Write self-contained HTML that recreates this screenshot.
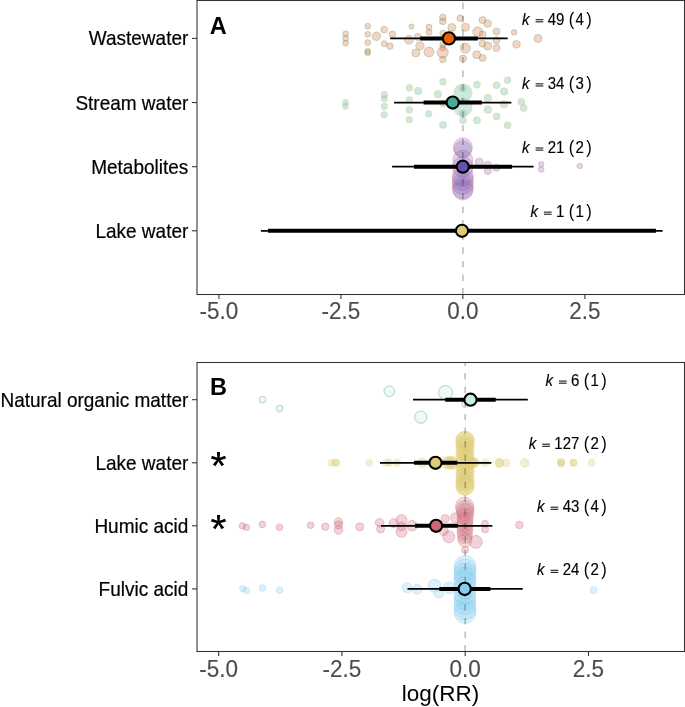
<!DOCTYPE html><html><head><meta charset="utf-8"><style>html,body{margin:0;padding:0;background:#fff;width:685px;height:707px;overflow:hidden}</style></head><body><svg width="685" height="707" viewBox="0 0 685 707" style="display:block;will-change:transform">
<g font-family='"Liberation Sans", sans-serif'>
<circle cx="345.7" cy="33.8" r="2.9" fill="#E0703A" fill-opacity="0.3" stroke="#6E9E78" stroke-opacity="0.55" stroke-width="0.7"/>
<circle cx="345.7" cy="38.5" r="2.9" fill="#E0703A" fill-opacity="0.3" stroke="#6E9E78" stroke-opacity="0.55" stroke-width="0.7"/>
<circle cx="345.7" cy="43.1" r="2.9" fill="#E0703A" fill-opacity="0.3" stroke="#6E9E78" stroke-opacity="0.55" stroke-width="0.7"/>
<circle cx="367.7" cy="26.2" r="2.9" fill="#E0703A" fill-opacity="0.3" stroke="#6E9E78" stroke-opacity="0.55" stroke-width="0.7"/>
<circle cx="367.7" cy="34.3" r="2.9" fill="#E0703A" fill-opacity="0.3" stroke="#6E9E78" stroke-opacity="0.55" stroke-width="0.7"/>
<circle cx="367.7" cy="42.6" r="2.9" fill="#E0703A" fill-opacity="0.3" stroke="#6E9E78" stroke-opacity="0.55" stroke-width="0.7"/>
<circle cx="367.7" cy="51.2" r="2.9" fill="#E0703A" fill-opacity="0.3" stroke="#6E9E78" stroke-opacity="0.55" stroke-width="0.7"/>
<circle cx="367.7" cy="52.9" r="2.9" fill="#E0703A" fill-opacity="0.3" stroke="#6E9E78" stroke-opacity="0.55" stroke-width="0.7"/>
<circle cx="376.4" cy="36.3" r="4.2" fill="#E0703A" fill-opacity="0.3" stroke="#6E9E78" stroke-opacity="0.55" stroke-width="0.7"/>
<circle cx="384.2" cy="29.7" r="3.3" fill="#E0703A" fill-opacity="0.3" stroke="#6E9E78" stroke-opacity="0.55" stroke-width="0.7"/>
<circle cx="384.2" cy="43.7" r="3.0" fill="#E0703A" fill-opacity="0.3" stroke="#6E9E78" stroke-opacity="0.55" stroke-width="0.7"/>
<circle cx="389.9" cy="46.1" r="3.3" fill="#E0703A" fill-opacity="0.3" stroke="#6E9E78" stroke-opacity="0.55" stroke-width="0.7"/>
<circle cx="392.4" cy="34.3" r="3.3" fill="#E0703A" fill-opacity="0.3" stroke="#6E9E78" stroke-opacity="0.55" stroke-width="0.7"/>
<circle cx="411.5" cy="26.6" r="2.6" fill="#E0703A" fill-opacity="0.3" stroke="#6E9E78" stroke-opacity="0.55" stroke-width="0.7"/>
<circle cx="408.8" cy="39.8" r="4.4" fill="#E0703A" fill-opacity="0.3" stroke="#6E9E78" stroke-opacity="0.55" stroke-width="0.7"/>
<circle cx="417.8" cy="37.1" r="3.5" fill="#E0703A" fill-opacity="0.3" stroke="#6E9E78" stroke-opacity="0.55" stroke-width="0.7"/>
<circle cx="420.0" cy="45.9" r="4.2" fill="#E0703A" fill-opacity="0.3" stroke="#6E9E78" stroke-opacity="0.55" stroke-width="0.7"/>
<circle cx="415.8" cy="52.9" r="4.0" fill="#E0703A" fill-opacity="0.3" stroke="#6E9E78" stroke-opacity="0.55" stroke-width="0.7"/>
<circle cx="429.0" cy="27.1" r="3.0" fill="#E0703A" fill-opacity="0.3" stroke="#6E9E78" stroke-opacity="0.55" stroke-width="0.7"/>
<circle cx="429.0" cy="32.3" r="3.0" fill="#E0703A" fill-opacity="0.3" stroke="#6E9E78" stroke-opacity="0.55" stroke-width="0.7"/>
<circle cx="429.0" cy="51.9" r="5.0" fill="#E0703A" fill-opacity="0.3" stroke="#6E9E78" stroke-opacity="0.55" stroke-width="0.7"/>
<circle cx="442.8" cy="17.4" r="3.3" fill="#E0703A" fill-opacity="0.3" stroke="#6E9E78" stroke-opacity="0.55" stroke-width="0.7"/>
<circle cx="442.8" cy="21.4" r="3.3" fill="#E0703A" fill-opacity="0.3" stroke="#6E9E78" stroke-opacity="0.55" stroke-width="0.7"/>
<circle cx="442.8" cy="33.2" r="3.0" fill="#E0703A" fill-opacity="0.3" stroke="#6E9E78" stroke-opacity="0.55" stroke-width="0.7"/>
<circle cx="442.8" cy="44.6" r="3.0" fill="#E0703A" fill-opacity="0.3" stroke="#6E9E78" stroke-opacity="0.55" stroke-width="0.7"/>
<circle cx="442.8" cy="47.7" r="3.0" fill="#E0703A" fill-opacity="0.3" stroke="#6E9E78" stroke-opacity="0.55" stroke-width="0.7"/>
<circle cx="442.8" cy="52.5" r="5.5" fill="#E0703A" fill-opacity="0.3" stroke="#6E9E78" stroke-opacity="0.55" stroke-width="0.7"/>
<circle cx="442.8" cy="59.5" r="3.3" fill="#E0703A" fill-opacity="0.3" stroke="#6E9E78" stroke-opacity="0.55" stroke-width="0.7"/>
<circle cx="451.8" cy="27.5" r="4.0" fill="#E0703A" fill-opacity="0.3" stroke="#6E9E78" stroke-opacity="0.55" stroke-width="0.7"/>
<circle cx="460.3" cy="18.3" r="3.3" fill="#E0703A" fill-opacity="0.3" stroke="#6E9E78" stroke-opacity="0.55" stroke-width="0.7"/>
<circle cx="465.4" cy="27.3" r="4.0" fill="#E0703A" fill-opacity="0.3" stroke="#6E9E78" stroke-opacity="0.55" stroke-width="0.7"/>
<circle cx="465.4" cy="48.1" r="5.0" fill="#E0703A" fill-opacity="0.3" stroke="#6E9E78" stroke-opacity="0.55" stroke-width="0.7"/>
<circle cx="463.0" cy="58.6" r="3.5" fill="#E0703A" fill-opacity="0.3" stroke="#6E9E78" stroke-opacity="0.55" stroke-width="0.7"/>
<circle cx="477.7" cy="31.9" r="5.0" fill="#E0703A" fill-opacity="0.3" stroke="#6E9E78" stroke-opacity="0.55" stroke-width="0.7"/>
<circle cx="482.5" cy="20.1" r="3.5" fill="#E0703A" fill-opacity="0.3" stroke="#6E9E78" stroke-opacity="0.55" stroke-width="0.7"/>
<circle cx="487.7" cy="23.6" r="3.8" fill="#E0703A" fill-opacity="0.3" stroke="#6E9E78" stroke-opacity="0.55" stroke-width="0.7"/>
<circle cx="482.5" cy="34.5" r="3.5" fill="#E0703A" fill-opacity="0.3" stroke="#6E9E78" stroke-opacity="0.55" stroke-width="0.7"/>
<circle cx="482.5" cy="43.7" r="3.5" fill="#E0703A" fill-opacity="0.3" stroke="#6E9E78" stroke-opacity="0.55" stroke-width="0.7"/>
<circle cx="487.7" cy="45.9" r="4.0" fill="#E0703A" fill-opacity="0.3" stroke="#6E9E78" stroke-opacity="0.55" stroke-width="0.7"/>
<circle cx="476.8" cy="54.7" r="4.0" fill="#E0703A" fill-opacity="0.3" stroke="#6E9E78" stroke-opacity="0.55" stroke-width="0.7"/>
<circle cx="482.6" cy="58.0" r="3.5" fill="#E0703A" fill-opacity="0.3" stroke="#6E9E78" stroke-opacity="0.55" stroke-width="0.7"/>
<circle cx="496.5" cy="31.5" r="3.5" fill="#E0703A" fill-opacity="0.3" stroke="#6E9E78" stroke-opacity="0.55" stroke-width="0.7"/>
<circle cx="496.5" cy="40.2" r="3.5" fill="#E0703A" fill-opacity="0.3" stroke="#6E9E78" stroke-opacity="0.55" stroke-width="0.7"/>
<circle cx="496.5" cy="48.1" r="3.5" fill="#E0703A" fill-opacity="0.3" stroke="#6E9E78" stroke-opacity="0.55" stroke-width="0.7"/>
<circle cx="514.1" cy="32.3" r="2.8" fill="#E0703A" fill-opacity="0.3" stroke="#6E9E78" stroke-opacity="0.55" stroke-width="0.7"/>
<circle cx="516.5" cy="44.3" r="3.8" fill="#E0703A" fill-opacity="0.3" stroke="#6E9E78" stroke-opacity="0.55" stroke-width="0.7"/>
<circle cx="537.9" cy="38.4" r="4.0" fill="#E0703A" fill-opacity="0.3" stroke="#6E9E78" stroke-opacity="0.55" stroke-width="0.7"/>
<circle cx="345.5" cy="102.5" r="3.1" fill="#44AA99" fill-opacity="0.27" stroke="#DDCC77" stroke-opacity="0.6" stroke-width="0.7"/>
<circle cx="345.5" cy="106.3" r="3.1" fill="#44AA99" fill-opacity="0.27" stroke="#DDCC77" stroke-opacity="0.6" stroke-width="0.7"/>
<circle cx="384.3" cy="94.5" r="3.3" fill="#44AA99" fill-opacity="0.27" stroke="#DDCC77" stroke-opacity="0.6" stroke-width="0.7"/>
<circle cx="384.3" cy="98.8" r="3.3" fill="#44AA99" fill-opacity="0.27" stroke="#DDCC77" stroke-opacity="0.6" stroke-width="0.7"/>
<circle cx="384.3" cy="106.5" r="3.3" fill="#44AA99" fill-opacity="0.27" stroke="#DDCC77" stroke-opacity="0.6" stroke-width="0.7"/>
<circle cx="384.3" cy="114.7" r="3.3" fill="#44AA99" fill-opacity="0.27" stroke="#DDCC77" stroke-opacity="0.6" stroke-width="0.7"/>
<circle cx="409.3" cy="87.9" r="3.3" fill="#44AA99" fill-opacity="0.27" stroke="#DDCC77" stroke-opacity="0.6" stroke-width="0.7"/>
<circle cx="409.3" cy="99.8" r="3.3" fill="#44AA99" fill-opacity="0.27" stroke="#DDCC77" stroke-opacity="0.6" stroke-width="0.7"/>
<circle cx="409.3" cy="109.9" r="3.3" fill="#44AA99" fill-opacity="0.27" stroke="#DDCC77" stroke-opacity="0.6" stroke-width="0.7"/>
<circle cx="409.3" cy="119.8" r="3.3" fill="#44AA99" fill-opacity="0.27" stroke="#DDCC77" stroke-opacity="0.6" stroke-width="0.7"/>
<circle cx="418.0" cy="91.0" r="3.8" fill="#44AA99" fill-opacity="0.27" stroke="#DDCC77" stroke-opacity="0.6" stroke-width="0.7"/>
<circle cx="428.7" cy="113.9" r="3.3" fill="#44AA99" fill-opacity="0.27" stroke="#DDCC77" stroke-opacity="0.6" stroke-width="0.7"/>
<circle cx="437.9" cy="94.2" r="3.8" fill="#44AA99" fill-opacity="0.27" stroke="#DDCC77" stroke-opacity="0.6" stroke-width="0.7"/>
<circle cx="443.0" cy="81.8" r="3.5" fill="#44AA99" fill-opacity="0.27" stroke="#DDCC77" stroke-opacity="0.6" stroke-width="0.7"/>
<circle cx="443.0" cy="103.7" r="3.5" fill="#44AA99" fill-opacity="0.27" stroke="#DDCC77" stroke-opacity="0.6" stroke-width="0.7"/>
<circle cx="443.0" cy="125.0" r="3.5" fill="#44AA99" fill-opacity="0.27" stroke="#DDCC77" stroke-opacity="0.6" stroke-width="0.7"/>
<circle cx="462.9" cy="93.0" r="9.2" fill="#44AA99" fill-opacity="0.27" stroke="#DDCC77" stroke-opacity="0.6" stroke-width="0.7"/>
<circle cx="462.9" cy="107.3" r="9.2" fill="#44AA99" fill-opacity="0.27" stroke="#DDCC77" stroke-opacity="0.6" stroke-width="0.7"/>
<circle cx="462.9" cy="88.4" r="3.5" fill="#44AA99" fill-opacity="0.27" stroke="#DDCC77" stroke-opacity="0.6" stroke-width="0.7"/>
<circle cx="462.9" cy="113.4" r="3.5" fill="#44AA99" fill-opacity="0.27" stroke="#DDCC77" stroke-opacity="0.6" stroke-width="0.7"/>
<circle cx="462.9" cy="120.3" r="3.5" fill="#44AA99" fill-opacity="0.27" stroke="#DDCC77" stroke-opacity="0.6" stroke-width="0.7"/>
<circle cx="476.9" cy="84.6" r="3.6" fill="#44AA99" fill-opacity="0.27" stroke="#DDCC77" stroke-opacity="0.6" stroke-width="0.7"/>
<circle cx="476.9" cy="120.3" r="3.6" fill="#44AA99" fill-opacity="0.27" stroke="#DDCC77" stroke-opacity="0.6" stroke-width="0.7"/>
<circle cx="487.9" cy="98.1" r="3.8" fill="#44AA99" fill-opacity="0.27" stroke="#DDCC77" stroke-opacity="0.6" stroke-width="0.7"/>
<circle cx="487.9" cy="109.6" r="3.8" fill="#44AA99" fill-opacity="0.27" stroke="#DDCC77" stroke-opacity="0.6" stroke-width="0.7"/>
<circle cx="496.6" cy="85.3" r="3.5" fill="#44AA99" fill-opacity="0.27" stroke="#DDCC77" stroke-opacity="0.6" stroke-width="0.7"/>
<circle cx="496.6" cy="116.5" r="3.5" fill="#44AA99" fill-opacity="0.27" stroke="#DDCC77" stroke-opacity="0.6" stroke-width="0.7"/>
<circle cx="504.1" cy="91.5" r="3.8" fill="#44AA99" fill-opacity="0.27" stroke="#DDCC77" stroke-opacity="0.6" stroke-width="0.7"/>
<circle cx="504.1" cy="104.2" r="3.8" fill="#44AA99" fill-opacity="0.27" stroke="#DDCC77" stroke-opacity="0.6" stroke-width="0.7"/>
<circle cx="507.5" cy="80.2" r="3.5" fill="#44AA99" fill-opacity="0.27" stroke="#DDCC77" stroke-opacity="0.6" stroke-width="0.7"/>
<circle cx="507.5" cy="125.2" r="3.5" fill="#44AA99" fill-opacity="0.27" stroke="#DDCC77" stroke-opacity="0.6" stroke-width="0.7"/>
<circle cx="521.4" cy="101.8" r="3.5" fill="#44AA99" fill-opacity="0.27" stroke="#DDCC77" stroke-opacity="0.6" stroke-width="0.7"/>
<circle cx="523.7" cy="108.0" r="3.5" fill="#44AA99" fill-opacity="0.27" stroke="#DDCC77" stroke-opacity="0.6" stroke-width="0.7"/>
<circle cx="462.8" cy="147.5" r="9.6" fill="#7A5CB8" fill-opacity="0.25" stroke="#CC6677" stroke-opacity="0.5" stroke-width="0.7"/>
<circle cx="462.8" cy="149.5" r="8.6" fill="#7A5CB8" fill-opacity="0.25" stroke="#CC6677" stroke-opacity="0.5" stroke-width="0.7"/>
<circle cx="462.8" cy="160.0" r="10.0" fill="#7A5CB8" fill-opacity="0.25" stroke="#CC6677" stroke-opacity="0.5" stroke-width="0.7"/>
<circle cx="462.8" cy="167.0" r="10.3" fill="#7A5CB8" fill-opacity="0.25" stroke="#CC6677" stroke-opacity="0.5" stroke-width="0.7"/>
<circle cx="462.8" cy="176.0" r="10.5" fill="#7A5CB8" fill-opacity="0.25" stroke="#CC6677" stroke-opacity="0.5" stroke-width="0.7"/>
<circle cx="462.8" cy="180.0" r="10.5" fill="#7A5CB8" fill-opacity="0.25" stroke="#CC6677" stroke-opacity="0.5" stroke-width="0.7"/>
<circle cx="462.8" cy="184.0" r="10.5" fill="#7A5CB8" fill-opacity="0.25" stroke="#CC6677" stroke-opacity="0.5" stroke-width="0.7"/>
<circle cx="462.8" cy="188.0" r="10.5" fill="#7A5CB8" fill-opacity="0.25" stroke="#CC6677" stroke-opacity="0.5" stroke-width="0.7"/>
<circle cx="462.8" cy="190.0" r="10.0" fill="#7A5CB8" fill-opacity="0.25" stroke="#CC6677" stroke-opacity="0.5" stroke-width="0.7"/>
<circle cx="479.3" cy="162.2" r="4.0" fill="#7A5CB8" fill-opacity="0.25" stroke="#CC6677" stroke-opacity="0.5" stroke-width="0.7"/>
<circle cx="487.8" cy="164.7" r="3.5" fill="#7A5CB8" fill-opacity="0.25" stroke="#CC6677" stroke-opacity="0.5" stroke-width="0.7"/>
<circle cx="487.8" cy="170.9" r="3.5" fill="#7A5CB8" fill-opacity="0.25" stroke="#CC6677" stroke-opacity="0.5" stroke-width="0.7"/>
<circle cx="496.4" cy="167.8" r="3.5" fill="#7A5CB8" fill-opacity="0.25" stroke="#CC6677" stroke-opacity="0.5" stroke-width="0.7"/>
<circle cx="541.2" cy="164.2" r="2.8" fill="#7A5CB8" fill-opacity="0.25" stroke="#CC6677" stroke-opacity="0.5" stroke-width="0.7"/>
<circle cx="541.2" cy="169.5" r="2.8" fill="#7A5CB8" fill-opacity="0.25" stroke="#CC6677" stroke-opacity="0.5" stroke-width="0.7"/>
<circle cx="579.7" cy="166.0" r="2.8" fill="#7A5CB8" fill-opacity="0.25" stroke="#CC6677" stroke-opacity="0.5" stroke-width="0.7"/>
<line x1="462.9" y1="294.5" x2="462.9" y2="0.5" stroke="#000" stroke-opacity="0.27" stroke-width="1.5" stroke-dasharray="6.4 7.2"/>
<line x1="390.2" y1="38.4" x2="507.7" y2="38.4" stroke="#000" stroke-width="1.8"/>
<line x1="420.2" y1="38.4" x2="477.8" y2="38.4" stroke="#000" stroke-width="4"/>
<circle cx="448.9" cy="38.4" r="6.1" fill="#E66100" stroke="#000" stroke-width="2.1"/>
<line x1="394.1" y1="102.55" x2="511.4" y2="102.55" stroke="#000" stroke-width="1.8"/>
<line x1="423.6" y1="102.55" x2="481.8" y2="102.55" stroke="#000" stroke-width="4"/>
<circle cx="452.7" cy="102.55" r="6.1" fill="#44AA99" stroke="#000" stroke-width="2.1"/>
<line x1="392.1" y1="166.7" x2="533.6" y2="166.7" stroke="#000" stroke-width="1.8"/>
<line x1="414.0" y1="166.7" x2="512.1" y2="166.7" stroke="#000" stroke-width="4"/>
<circle cx="462.8" cy="166.7" r="6.1" fill="#6950AA" stroke="#000" stroke-width="2.1"/>
<line x1="260.9" y1="230.8" x2="662.6" y2="230.8" stroke="#000" stroke-width="1.8"/>
<line x1="268.0" y1="230.8" x2="655.9" y2="230.8" stroke="#000" stroke-width="4"/>
<circle cx="462.0" cy="230.8" r="6.1" fill="#DDCC77" stroke="#000" stroke-width="2.1"/>
<circle cx="262.6" cy="399.7" r="3.3" fill="#D0ECE2" fill-opacity="0.3" stroke="#7DBF9A" stroke-opacity="0.7" stroke-width="0.9"/>
<circle cx="279.7" cy="408.5" r="3.3" fill="#D0ECE2" fill-opacity="0.3" stroke="#7DBF9A" stroke-opacity="0.7" stroke-width="0.9"/>
<circle cx="389.3" cy="391.3" r="5.3" fill="#D0ECE2" fill-opacity="0.3" stroke="#7DBF9A" stroke-opacity="0.7" stroke-width="0.9"/>
<circle cx="420.8" cy="417.2" r="6.1" fill="#D0ECE2" fill-opacity="0.3" stroke="#7DBF9A" stroke-opacity="0.7" stroke-width="0.9"/>
<circle cx="445.5" cy="392.6" r="7.0" fill="#D0ECE2" fill-opacity="0.3" stroke="#7DBF9A" stroke-opacity="0.7" stroke-width="0.9"/>
<circle cx="465.0" cy="404.4" r="3.0" fill="#D0ECE2" fill-opacity="0.3" stroke="#7DBF9A" stroke-opacity="0.7" stroke-width="0.9"/>
<circle cx="331.4" cy="462.8" r="3.4" fill="#DDCC77" fill-opacity="0.34" stroke="#DDCC77" stroke-opacity="0.35" stroke-width="0.7"/>
<circle cx="336.0" cy="462.8" r="3.9" fill="#DDCC77" fill-opacity="0.34" stroke="#DDCC77" stroke-opacity="0.35" stroke-width="0.7"/>
<circle cx="335.5" cy="462.5" r="3.6" fill="#DDCC77" fill-opacity="0.34" stroke="#DDCC77" stroke-opacity="0.35" stroke-width="0.7"/>
<circle cx="369.2" cy="462.8" r="3.4" fill="#DDCC77" fill-opacity="0.34" stroke="#DDCC77" stroke-opacity="0.35" stroke-width="0.7"/>
<circle cx="386.4" cy="462.8" r="3.6" fill="#DDCC77" fill-opacity="0.34" stroke="#DDCC77" stroke-opacity="0.35" stroke-width="0.7"/>
<circle cx="389.3" cy="462.6" r="3.6" fill="#DDCC77" fill-opacity="0.34" stroke="#DDCC77" stroke-opacity="0.35" stroke-width="0.7"/>
<circle cx="397.1" cy="462.8" r="3.8" fill="#DDCC77" fill-opacity="0.34" stroke="#DDCC77" stroke-opacity="0.35" stroke-width="0.7"/>
<circle cx="421.7" cy="462.8" r="5.0" fill="#DDCC77" fill-opacity="0.34" stroke="#DDCC77" stroke-opacity="0.35" stroke-width="0.7"/>
<circle cx="446.5" cy="462.8" r="6.0" fill="#DDCC77" fill-opacity="0.34" stroke="#DDCC77" stroke-opacity="0.35" stroke-width="0.7"/>
<circle cx="452.0" cy="462.8" r="6.0" fill="#DDCC77" fill-opacity="0.34" stroke="#DDCC77" stroke-opacity="0.35" stroke-width="0.7"/>
<circle cx="475.7" cy="462.8" r="4.0" fill="#DDCC77" fill-opacity="0.34" stroke="#DDCC77" stroke-opacity="0.35" stroke-width="0.7"/>
<circle cx="485.2" cy="462.8" r="3.8" fill="#DDCC77" fill-opacity="0.34" stroke="#DDCC77" stroke-opacity="0.35" stroke-width="0.7"/>
<circle cx="499.4" cy="462.2" r="4.3" fill="#DDCC77" fill-opacity="0.34" stroke="#DDCC77" stroke-opacity="0.35" stroke-width="0.7"/>
<circle cx="499.4" cy="463.4" r="4.3" fill="#DDCC77" fill-opacity="0.34" stroke="#DDCC77" stroke-opacity="0.35" stroke-width="0.7"/>
<circle cx="506.0" cy="462.8" r="4.0" fill="#DDCC77" fill-opacity="0.34" stroke="#DDCC77" stroke-opacity="0.35" stroke-width="0.7"/>
<circle cx="524.7" cy="462.8" r="4.5" fill="#DDCC77" fill-opacity="0.34" stroke="#DDCC77" stroke-opacity="0.35" stroke-width="0.7"/>
<circle cx="561.1" cy="461.9" r="3.6" fill="#DDCC77" fill-opacity="0.34" stroke="#DDCC77" stroke-opacity="0.35" stroke-width="0.7"/>
<circle cx="561.1" cy="463.6" r="3.6" fill="#DDCC77" fill-opacity="0.34" stroke="#DDCC77" stroke-opacity="0.35" stroke-width="0.7"/>
<circle cx="561.1" cy="462.8" r="3.6" fill="#DDCC77" fill-opacity="0.34" stroke="#DDCC77" stroke-opacity="0.35" stroke-width="0.7"/>
<circle cx="573.4" cy="462.4" r="3.6" fill="#DDCC77" fill-opacity="0.34" stroke="#DDCC77" stroke-opacity="0.35" stroke-width="0.7"/>
<circle cx="573.4" cy="463.0" r="3.6" fill="#DDCC77" fill-opacity="0.34" stroke="#DDCC77" stroke-opacity="0.35" stroke-width="0.7"/>
<circle cx="591.5" cy="462.8" r="3.5" fill="#DDCC77" fill-opacity="0.34" stroke="#DDCC77" stroke-opacity="0.35" stroke-width="0.7"/>
<circle cx="465.0" cy="440.5" r="9.2" fill="#DDCC77" fill-opacity="0.42" stroke="#DDCC77" stroke-opacity="0.3" stroke-width="0.7"/>
<circle cx="465.0" cy="444" r="9.2" fill="#DDCC77" fill-opacity="0.42" stroke="#DDCC77" stroke-opacity="0.3" stroke-width="0.7"/>
<circle cx="465.0" cy="447.5" r="9.2" fill="#DDCC77" fill-opacity="0.42" stroke="#DDCC77" stroke-opacity="0.3" stroke-width="0.7"/>
<circle cx="465.0" cy="451" r="9.2" fill="#DDCC77" fill-opacity="0.42" stroke="#DDCC77" stroke-opacity="0.3" stroke-width="0.7"/>
<circle cx="465.0" cy="455" r="9.2" fill="#DDCC77" fill-opacity="0.42" stroke="#DDCC77" stroke-opacity="0.3" stroke-width="0.7"/>
<circle cx="465.0" cy="459" r="9.2" fill="#DDCC77" fill-opacity="0.42" stroke="#DDCC77" stroke-opacity="0.3" stroke-width="0.7"/>
<circle cx="465.0" cy="463" r="9.2" fill="#DDCC77" fill-opacity="0.42" stroke="#DDCC77" stroke-opacity="0.3" stroke-width="0.7"/>
<circle cx="465.0" cy="467" r="9.2" fill="#DDCC77" fill-opacity="0.42" stroke="#DDCC77" stroke-opacity="0.3" stroke-width="0.7"/>
<circle cx="465.0" cy="471" r="9.2" fill="#DDCC77" fill-opacity="0.42" stroke="#DDCC77" stroke-opacity="0.3" stroke-width="0.7"/>
<circle cx="465.0" cy="475" r="9.2" fill="#DDCC77" fill-opacity="0.42" stroke="#DDCC77" stroke-opacity="0.3" stroke-width="0.7"/>
<circle cx="465.0" cy="479" r="9.2" fill="#DDCC77" fill-opacity="0.42" stroke="#DDCC77" stroke-opacity="0.3" stroke-width="0.7"/>
<circle cx="465.0" cy="482.5" r="9.2" fill="#DDCC77" fill-opacity="0.42" stroke="#DDCC77" stroke-opacity="0.3" stroke-width="0.7"/>
<circle cx="465.0" cy="486" r="9.2" fill="#DDCC77" fill-opacity="0.42" stroke="#DDCC77" stroke-opacity="0.3" stroke-width="0.7"/>
<circle cx="465.0" cy="440.5" r="9.4" fill="#DDCC77" fill-opacity="0.42" stroke="#DDCC77" stroke-opacity="0.3" stroke-width="0.7"/>
<circle cx="465.0" cy="486.0" r="9.4" fill="#DDCC77" fill-opacity="0.42" stroke="#DDCC77" stroke-opacity="0.3" stroke-width="0.7"/>
<circle cx="449.0" cy="462.8" r="6.5" fill="#DDCC77" fill-opacity="0.42" stroke="#DDCC77" stroke-opacity="0.3" stroke-width="0.7"/>
<circle cx="452.0" cy="462.8" r="6.5" fill="#DDCC77" fill-opacity="0.42" stroke="#DDCC77" stroke-opacity="0.3" stroke-width="0.7"/>
<circle cx="471.0" cy="462.8" r="6.0" fill="#DDCC77" fill-opacity="0.42" stroke="#DDCC77" stroke-opacity="0.3" stroke-width="0.7"/>
<circle cx="474.0" cy="462.8" r="5.0" fill="#DDCC77" fill-opacity="0.42" stroke="#DDCC77" stroke-opacity="0.3" stroke-width="0.7"/>
<circle cx="242.4" cy="525.8" r="3.2" fill="#CC6677" fill-opacity="0.28" stroke="#CC6677" stroke-opacity="0.5" stroke-width="0.7"/>
<circle cx="246.4" cy="527.4" r="3.2" fill="#CC6677" fill-opacity="0.28" stroke="#CC6677" stroke-opacity="0.5" stroke-width="0.7"/>
<circle cx="262.4" cy="524.4" r="3.3" fill="#CC6677" fill-opacity="0.28" stroke="#CC6677" stroke-opacity="0.5" stroke-width="0.7"/>
<circle cx="279.6" cy="527.3" r="3.3" fill="#CC6677" fill-opacity="0.28" stroke="#CC6677" stroke-opacity="0.5" stroke-width="0.7"/>
<circle cx="310.6" cy="525.3" r="3.3" fill="#CC6677" fill-opacity="0.28" stroke="#CC6677" stroke-opacity="0.5" stroke-width="0.7"/>
<circle cx="325.3" cy="526.7" r="3.7" fill="#CC6677" fill-opacity="0.28" stroke="#CC6677" stroke-opacity="0.5" stroke-width="0.7"/>
<circle cx="338.5" cy="522.0" r="4.3" fill="#CC6677" fill-opacity="0.28" stroke="#CC6677" stroke-opacity="0.5" stroke-width="0.7"/>
<circle cx="338.5" cy="524.9" r="4.0" fill="#CC6677" fill-opacity="0.28" stroke="#CC6677" stroke-opacity="0.5" stroke-width="0.7"/>
<circle cx="338.5" cy="530.0" r="4.3" fill="#CC6677" fill-opacity="0.28" stroke="#CC6677" stroke-opacity="0.5" stroke-width="0.7"/>
<circle cx="359.7" cy="526.8" r="4.0" fill="#CC6677" fill-opacity="0.28" stroke="#CC6677" stroke-opacity="0.5" stroke-width="0.7"/>
<circle cx="379.6" cy="522.7" r="4.3" fill="#CC6677" fill-opacity="0.28" stroke="#CC6677" stroke-opacity="0.5" stroke-width="0.7"/>
<circle cx="380.6" cy="528.9" r="4.0" fill="#CC6677" fill-opacity="0.28" stroke="#CC6677" stroke-opacity="0.5" stroke-width="0.7"/>
<circle cx="393.7" cy="523.2" r="4.5" fill="#CC6677" fill-opacity="0.28" stroke="#CC6677" stroke-opacity="0.5" stroke-width="0.7"/>
<circle cx="401.5" cy="520.1" r="5.5" fill="#CC6677" fill-opacity="0.28" stroke="#CC6677" stroke-opacity="0.5" stroke-width="0.7"/>
<circle cx="401.5" cy="526.4" r="4.5" fill="#CC6677" fill-opacity="0.28" stroke="#CC6677" stroke-opacity="0.5" stroke-width="0.7"/>
<circle cx="401.5" cy="531.8" r="5.5" fill="#CC6677" fill-opacity="0.28" stroke="#CC6677" stroke-opacity="0.5" stroke-width="0.7"/>
<circle cx="412.0" cy="525.7" r="5.3" fill="#CC6677" fill-opacity="0.28" stroke="#CC6677" stroke-opacity="0.5" stroke-width="0.7"/>
<circle cx="445.1" cy="518.6" r="4.0" fill="#CC6677" fill-opacity="0.28" stroke="#CC6677" stroke-opacity="0.5" stroke-width="0.7"/>
<circle cx="455.4" cy="517.8" r="5.0" fill="#CC6677" fill-opacity="0.28" stroke="#CC6677" stroke-opacity="0.5" stroke-width="0.7"/>
<circle cx="448.8" cy="536.8" r="6.0" fill="#CC6677" fill-opacity="0.28" stroke="#CC6677" stroke-opacity="0.5" stroke-width="0.7"/>
<circle cx="443.7" cy="531.0" r="4.5" fill="#CC6677" fill-opacity="0.28" stroke="#CC6677" stroke-opacity="0.5" stroke-width="0.7"/>
<circle cx="475.8" cy="541.9" r="6.5" fill="#CC6677" fill-opacity="0.28" stroke="#CC6677" stroke-opacity="0.5" stroke-width="0.7"/>
<circle cx="485.0" cy="523.7" r="3.5" fill="#CC6677" fill-opacity="0.28" stroke="#CC6677" stroke-opacity="0.5" stroke-width="0.7"/>
<circle cx="485.0" cy="529.5" r="3.5" fill="#CC6677" fill-opacity="0.28" stroke="#CC6677" stroke-opacity="0.5" stroke-width="0.7"/>
<circle cx="519.4" cy="525.0" r="3.7" fill="#CC6677" fill-opacity="0.28" stroke="#CC6677" stroke-opacity="0.5" stroke-width="0.7"/>
<circle cx="465.1" cy="550.0" r="3.5" fill="#CC6677" fill-opacity="0.28" stroke="#CC6677" stroke-opacity="0.5" stroke-width="0.7"/>
<circle cx="464.6" cy="506.5" r="9.2" fill="#CC6677" fill-opacity="0.25" stroke="#CC6677" stroke-opacity="0.45" stroke-width="0.7"/>
<circle cx="465.0" cy="509.5" r="9.0" fill="#CC6677" fill-opacity="0.25" stroke="#CC6677" stroke-opacity="0.45" stroke-width="0.7"/>
<circle cx="465.2" cy="512.0" r="8.5" fill="#CC6677" fill-opacity="0.25" stroke="#CC6677" stroke-opacity="0.45" stroke-width="0.7"/>
<circle cx="465.3" cy="516.0" r="8.2" fill="#CC6677" fill-opacity="0.25" stroke="#CC6677" stroke-opacity="0.45" stroke-width="0.7"/>
<circle cx="465.0" cy="520.0" r="8.0" fill="#CC6677" fill-opacity="0.25" stroke="#CC6677" stroke-opacity="0.45" stroke-width="0.7"/>
<circle cx="465.0" cy="524.0" r="8.0" fill="#CC6677" fill-opacity="0.25" stroke="#CC6677" stroke-opacity="0.45" stroke-width="0.7"/>
<circle cx="465.0" cy="528.0" r="8.0" fill="#CC6677" fill-opacity="0.25" stroke="#CC6677" stroke-opacity="0.45" stroke-width="0.7"/>
<circle cx="464.8" cy="532.0" r="7.8" fill="#CC6677" fill-opacity="0.25" stroke="#CC6677" stroke-opacity="0.45" stroke-width="0.7"/>
<circle cx="464.8" cy="536.0" r="7.6" fill="#CC6677" fill-opacity="0.25" stroke="#CC6677" stroke-opacity="0.45" stroke-width="0.7"/>
<circle cx="465.0" cy="540.0" r="7.0" fill="#CC6677" fill-opacity="0.25" stroke="#CC6677" stroke-opacity="0.45" stroke-width="0.7"/>
<circle cx="242.7" cy="588.8" r="3.2" fill="#88CCEE" fill-opacity="0.28" stroke="#88CCEE" stroke-opacity="0.5" stroke-width="0.7"/>
<circle cx="246.4" cy="590.5" r="3.2" fill="#88CCEE" fill-opacity="0.28" stroke="#88CCEE" stroke-opacity="0.5" stroke-width="0.7"/>
<circle cx="262.4" cy="587.9" r="3.3" fill="#88CCEE" fill-opacity="0.28" stroke="#88CCEE" stroke-opacity="0.5" stroke-width="0.7"/>
<circle cx="279.6" cy="590.3" r="3.3" fill="#88CCEE" fill-opacity="0.28" stroke="#88CCEE" stroke-opacity="0.5" stroke-width="0.7"/>
<circle cx="407.2" cy="587.8" r="5.0" fill="#88CCEE" fill-opacity="0.28" stroke="#88CCEE" stroke-opacity="0.5" stroke-width="0.7"/>
<circle cx="417.0" cy="589.3" r="5.0" fill="#88CCEE" fill-opacity="0.28" stroke="#88CCEE" stroke-opacity="0.5" stroke-width="0.7"/>
<circle cx="434.5" cy="585.7" r="6.5" fill="#88CCEE" fill-opacity="0.28" stroke="#88CCEE" stroke-opacity="0.5" stroke-width="0.7"/>
<circle cx="438.9" cy="593.0" r="5.0" fill="#88CCEE" fill-opacity="0.28" stroke="#88CCEE" stroke-opacity="0.5" stroke-width="0.7"/>
<circle cx="449.1" cy="587.8" r="6.0" fill="#88CCEE" fill-opacity="0.28" stroke="#88CCEE" stroke-opacity="0.5" stroke-width="0.7"/>
<circle cx="593.6" cy="590.2" r="3.5" fill="#88CCEE" fill-opacity="0.28" stroke="#88CCEE" stroke-opacity="0.5" stroke-width="0.7"/>
<circle cx="465.0" cy="566.5" r="11.0" fill="#88CCEE" fill-opacity="0.3" stroke="#6FB8E0" stroke-opacity="0.3" stroke-width="0.7"/>
<circle cx="465.0" cy="570" r="11.0" fill="#88CCEE" fill-opacity="0.3" stroke="#6FB8E0" stroke-opacity="0.3" stroke-width="0.7"/>
<circle cx="465.0" cy="574" r="11.0" fill="#88CCEE" fill-opacity="0.3" stroke="#6FB8E0" stroke-opacity="0.3" stroke-width="0.7"/>
<circle cx="465.0" cy="578" r="11.0" fill="#88CCEE" fill-opacity="0.3" stroke="#6FB8E0" stroke-opacity="0.3" stroke-width="0.7"/>
<circle cx="465.0" cy="582" r="11.0" fill="#88CCEE" fill-opacity="0.3" stroke="#6FB8E0" stroke-opacity="0.3" stroke-width="0.7"/>
<circle cx="465.0" cy="588" r="11.0" fill="#88CCEE" fill-opacity="0.3" stroke="#6FB8E0" stroke-opacity="0.3" stroke-width="0.7"/>
<circle cx="465.0" cy="594" r="11.0" fill="#88CCEE" fill-opacity="0.3" stroke="#6FB8E0" stroke-opacity="0.3" stroke-width="0.7"/>
<circle cx="465.0" cy="599" r="11.0" fill="#88CCEE" fill-opacity="0.3" stroke="#6FB8E0" stroke-opacity="0.3" stroke-width="0.7"/>
<circle cx="465.0" cy="604" r="11.0" fill="#88CCEE" fill-opacity="0.3" stroke="#6FB8E0" stroke-opacity="0.3" stroke-width="0.7"/>
<circle cx="465.0" cy="609" r="11.0" fill="#88CCEE" fill-opacity="0.3" stroke="#6FB8E0" stroke-opacity="0.3" stroke-width="0.7"/>
<circle cx="465.0" cy="612.5" r="11.0" fill="#88CCEE" fill-opacity="0.3" stroke="#6FB8E0" stroke-opacity="0.3" stroke-width="0.7"/>
<line x1="465.2" y1="651.5" x2="465.2" y2="362.5" stroke="#000" stroke-opacity="0.27" stroke-width="1.5" stroke-dasharray="6.4 7.2"/>
<line x1="413.0" y1="399.7" x2="527.8" y2="399.7" stroke="#000" stroke-width="1.8"/>
<line x1="445.2" y1="399.7" x2="495.7" y2="399.7" stroke="#000" stroke-width="4"/>
<circle cx="470.5" cy="399.7" r="6.1" fill="#C8EBE4" stroke="#000" stroke-width="2.1"/>
<line x1="379.9" y1="462.8" x2="491.3" y2="462.8" stroke="#000" stroke-width="1.8"/>
<line x1="414.1" y1="462.8" x2="457.3" y2="462.8" stroke="#000" stroke-width="4"/>
<circle cx="435.5" cy="462.8" r="6.1" fill="#DDCC77" stroke="#000" stroke-width="2.1"/>
<line x1="381.0" y1="525.8" x2="492.3" y2="525.8" stroke="#000" stroke-width="1.8"/>
<line x1="414.9" y1="525.8" x2="457.8" y2="525.8" stroke="#000" stroke-width="4"/>
<circle cx="436.1" cy="525.8" r="6.1" fill="#CC6677" stroke="#000" stroke-width="2.1"/>
<line x1="407.5" y1="588.9" x2="522.7" y2="588.9" stroke="#000" stroke-width="1.8"/>
<line x1="439.3" y1="588.9" x2="490.4" y2="588.9" stroke="#000" stroke-width="4"/>
<circle cx="464.7" cy="588.9" r="6.1" fill="#88CCEE" stroke="#000" stroke-width="2.1"/>
<text transform="translate(522.11,24.65) scale(1,1.04)" font-size="15.0" font-style="italic" fill="#000" stroke="#000" stroke-width="0.15">k</text>
<rect x="535.59" y="19.20" width="7.7" height="1.05" fill="#111"/>
<rect x="535.59" y="21.30" width="7.7" height="1.05" fill="#111"/>
<text transform="translate(547.69,24.65) scale(1,1.04)" font-size="15.0" fill="#000" stroke="#000" stroke-width="0.15">49</text>
<text transform="translate(575.58,24.65) scale(1,1.04)" font-size="15.0" fill="#000" stroke="#000" stroke-width="0.15">4</text>
<text transform="translate(568.87,24.65) scale(0.87,1)" font-size="19.0" fill="#000">(</text>
<text transform="translate(586.22,24.65) scale(0.87,1)" font-size="19.0" fill="#000">)</text>
<text transform="translate(522.11,88.8) scale(1,1.04)" font-size="15.0" font-style="italic" fill="#000" stroke="#000" stroke-width="0.15">k</text>
<rect x="535.59" y="83.35" width="7.7" height="1.05" fill="#111"/>
<rect x="535.59" y="85.45" width="7.7" height="1.05" fill="#111"/>
<text transform="translate(547.69,88.8) scale(1,1.04)" font-size="15.0" fill="#000" stroke="#000" stroke-width="0.15">34</text>
<text transform="translate(575.58,88.8) scale(1,1.04)" font-size="15.0" fill="#000" stroke="#000" stroke-width="0.15">3</text>
<text transform="translate(568.87,88.8) scale(0.87,1)" font-size="19.0" fill="#000">(</text>
<text transform="translate(586.22,88.8) scale(0.87,1)" font-size="19.0" fill="#000">)</text>
<text transform="translate(522.11,152.95) scale(1,1.04)" font-size="15.0" font-style="italic" fill="#000" stroke="#000" stroke-width="0.15">k</text>
<rect x="535.59" y="147.50" width="7.7" height="1.05" fill="#111"/>
<rect x="535.59" y="149.60" width="7.7" height="1.05" fill="#111"/>
<text transform="translate(547.69,152.95) scale(1,1.04)" font-size="15.0" fill="#000" stroke="#000" stroke-width="0.15">21</text>
<text transform="translate(575.58,152.95) scale(1,1.04)" font-size="15.0" fill="#000" stroke="#000" stroke-width="0.15">2</text>
<text transform="translate(568.87,152.95) scale(0.87,1)" font-size="19.0" fill="#000">(</text>
<text transform="translate(586.22,152.95) scale(0.87,1)" font-size="19.0" fill="#000">)</text>
<text transform="translate(530.45,217.05) scale(1,1.04)" font-size="15.0" font-style="italic" fill="#000" stroke="#000" stroke-width="0.15">k</text>
<rect x="543.93" y="211.60" width="7.7" height="1.05" fill="#111"/>
<rect x="543.93" y="213.70" width="7.7" height="1.05" fill="#111"/>
<text transform="translate(556.03,217.05) scale(1,1.04)" font-size="15.0" fill="#000" stroke="#000" stroke-width="0.15">1</text>
<text transform="translate(575.58,217.05) scale(1,1.04)" font-size="15.0" fill="#000" stroke="#000" stroke-width="0.15">1</text>
<text transform="translate(568.87,217.05) scale(0.87,1)" font-size="19.0" fill="#000">(</text>
<text transform="translate(586.22,217.05) scale(0.87,1)" font-size="19.0" fill="#000">)</text>
<text transform="translate(545.45,386.0) scale(1,1.04)" font-size="15.0" font-style="italic" fill="#000" stroke="#000" stroke-width="0.15">k</text>
<rect x="558.93" y="380.55" width="7.7" height="1.05" fill="#111"/>
<rect x="558.93" y="382.65" width="7.7" height="1.05" fill="#111"/>
<text transform="translate(571.03,386.0) scale(1,1.04)" font-size="15.0" fill="#000" stroke="#000" stroke-width="0.15">6</text>
<text transform="translate(590.58,386.0) scale(1,1.04)" font-size="15.0" fill="#000" stroke="#000" stroke-width="0.15">1</text>
<text transform="translate(583.87,386.0) scale(0.87,1)" font-size="19.0" fill="#000">(</text>
<text transform="translate(601.22,386.0) scale(0.87,1)" font-size="19.0" fill="#000">)</text>
<text transform="translate(528.77,449.1) scale(1,1.04)" font-size="15.0" font-style="italic" fill="#000" stroke="#000" stroke-width="0.15">k</text>
<rect x="542.25" y="443.65" width="7.7" height="1.05" fill="#111"/>
<rect x="542.25" y="445.75" width="7.7" height="1.05" fill="#111"/>
<text transform="translate(554.35,449.1) scale(1,1.04)" font-size="15.0" fill="#000" stroke="#000" stroke-width="0.15">127</text>
<text transform="translate(590.58,449.1) scale(1,1.04)" font-size="15.0" fill="#000" stroke="#000" stroke-width="0.15">2</text>
<text transform="translate(583.87,449.1) scale(0.87,1)" font-size="19.0" fill="#000">(</text>
<text transform="translate(601.22,449.1) scale(0.87,1)" font-size="19.0" fill="#000">)</text>
<text transform="translate(537.11,512.1) scale(1,1.04)" font-size="15.0" font-style="italic" fill="#000" stroke="#000" stroke-width="0.15">k</text>
<rect x="550.59" y="506.65" width="7.7" height="1.05" fill="#111"/>
<rect x="550.59" y="508.75" width="7.7" height="1.05" fill="#111"/>
<text transform="translate(562.69,512.1) scale(1,1.04)" font-size="15.0" fill="#000" stroke="#000" stroke-width="0.15">43</text>
<text transform="translate(590.58,512.1) scale(1,1.04)" font-size="15.0" fill="#000" stroke="#000" stroke-width="0.15">4</text>
<text transform="translate(583.87,512.1) scale(0.87,1)" font-size="19.0" fill="#000">(</text>
<text transform="translate(601.22,512.1) scale(0.87,1)" font-size="19.0" fill="#000">)</text>
<text transform="translate(537.11,575.2) scale(1,1.04)" font-size="15.0" font-style="italic" fill="#000" stroke="#000" stroke-width="0.15">k</text>
<rect x="550.59" y="569.75" width="7.7" height="1.05" fill="#111"/>
<rect x="550.59" y="571.85" width="7.7" height="1.05" fill="#111"/>
<text transform="translate(562.69,575.2) scale(1,1.04)" font-size="15.0" fill="#000" stroke="#000" stroke-width="0.15">24</text>
<text transform="translate(590.58,575.2) scale(1,1.04)" font-size="15.0" fill="#000" stroke="#000" stroke-width="0.15">2</text>
<text transform="translate(583.87,575.2) scale(0.87,1)" font-size="19.0" fill="#000">(</text>
<text transform="translate(601.22,575.2) scale(0.87,1)" font-size="19.0" fill="#000">)</text>
<rect x="197.0" y="0.5" width="487.5" height="294.0" fill="none" stroke="#333333" stroke-width="1.07"/>
<rect x="197.0" y="362.5" width="487.5" height="289.0" fill="none" stroke="#333333" stroke-width="1.07"/>
<line x1="192" y1="38.4" x2="197.0" y2="38.4" stroke="#333333" stroke-width="1.07"/>
<text transform="translate(188.3,45.40) scale(1,1.05)" text-anchor="end" font-size="19" fill="#000" stroke="#000" stroke-width="0.2">Wastewater</text>
<line x1="192" y1="102.55" x2="197.0" y2="102.55" stroke="#333333" stroke-width="1.07"/>
<text transform="translate(188.3,109.55) scale(1,1.05)" text-anchor="end" font-size="19" fill="#000" stroke="#000" stroke-width="0.2">Stream water</text>
<line x1="192" y1="166.7" x2="197.0" y2="166.7" stroke="#333333" stroke-width="1.07"/>
<text transform="translate(188.3,173.70) scale(1,1.05)" text-anchor="end" font-size="19" fill="#000" stroke="#000" stroke-width="0.2">Metabolites</text>
<line x1="192" y1="230.8" x2="197.0" y2="230.8" stroke="#333333" stroke-width="1.07"/>
<text transform="translate(188.3,237.80) scale(1,1.05)" text-anchor="end" font-size="19" fill="#000" stroke="#000" stroke-width="0.2">Lake water</text>
<line x1="192" y1="399.7" x2="197.0" y2="399.7" stroke="#333333" stroke-width="1.07"/>
<text transform="translate(188.3,406.70) scale(1,1.05)" text-anchor="end" font-size="19" fill="#000" stroke="#000" stroke-width="0.2">Natural organic matter</text>
<line x1="192" y1="462.8" x2="197.0" y2="462.8" stroke="#333333" stroke-width="1.07"/>
<text transform="translate(188.3,469.80) scale(1,1.05)" text-anchor="end" font-size="19" fill="#000" stroke="#000" stroke-width="0.2">Lake water</text>
<line x1="192" y1="525.8" x2="197.0" y2="525.8" stroke="#333333" stroke-width="1.07"/>
<text transform="translate(188.3,532.80) scale(1,1.05)" text-anchor="end" font-size="19" fill="#000" stroke="#000" stroke-width="0.2">Humic acid</text>
<line x1="192" y1="588.9" x2="197.0" y2="588.9" stroke="#333333" stroke-width="1.07"/>
<text transform="translate(188.3,595.90) scale(1,1.05)" text-anchor="end" font-size="19" fill="#000" stroke="#000" stroke-width="0.2">Fulvic acid</text>
<line x1="218.95" y1="294.5" x2="218.95" y2="299.1" stroke="#333333" stroke-width="1.07"/>
<text transform="translate(218.95,319.30) scale(1,1.04)" text-anchor="middle" font-size="22.5" fill="#4D4D4D" stroke="#4D4D4D" stroke-width="0.15">-5.0</text>
<line x1="340.92" y1="294.5" x2="340.92" y2="299.1" stroke="#333333" stroke-width="1.07"/>
<text transform="translate(340.92,319.30) scale(1,1.04)" text-anchor="middle" font-size="22.5" fill="#4D4D4D" stroke="#4D4D4D" stroke-width="0.15">-2.5</text>
<line x1="462.90" y1="294.5" x2="462.90" y2="299.1" stroke="#333333" stroke-width="1.07"/>
<text transform="translate(462.90,319.30) scale(1,1.04)" text-anchor="middle" font-size="22.5" fill="#4D4D4D" stroke="#4D4D4D" stroke-width="0.15">0.0</text>
<line x1="584.88" y1="294.5" x2="584.88" y2="299.1" stroke="#333333" stroke-width="1.07"/>
<text transform="translate(584.88,319.30) scale(1,1.04)" text-anchor="middle" font-size="22.5" fill="#4D4D4D" stroke="#4D4D4D" stroke-width="0.15">2.5</text>
<line x1="218.65" y1="651.5" x2="218.65" y2="656.1" stroke="#333333" stroke-width="1.07"/>
<text transform="translate(218.65,676.50) scale(1,1.04)" text-anchor="middle" font-size="22.5" fill="#4D4D4D" stroke="#4D4D4D" stroke-width="0.15">-5.0</text>
<line x1="341.92" y1="651.5" x2="341.92" y2="656.1" stroke="#333333" stroke-width="1.07"/>
<text transform="translate(341.92,676.50) scale(1,1.04)" text-anchor="middle" font-size="22.5" fill="#4D4D4D" stroke="#4D4D4D" stroke-width="0.15">-2.5</text>
<line x1="465.20" y1="651.5" x2="465.20" y2="656.1" stroke="#333333" stroke-width="1.07"/>
<text transform="translate(465.20,676.50) scale(1,1.04)" text-anchor="middle" font-size="22.5" fill="#4D4D4D" stroke="#4D4D4D" stroke-width="0.15">0.0</text>
<line x1="588.48" y1="651.5" x2="588.48" y2="656.1" stroke="#333333" stroke-width="1.07"/>
<text transform="translate(588.48,676.50) scale(1,1.04)" text-anchor="middle" font-size="22.5" fill="#4D4D4D" stroke="#4D4D4D" stroke-width="0.15">2.5</text>
<text x="209.8" y="33.7" font-size="23.5" font-weight="bold" fill="#000">A</text>
<text x="210.1" y="395.3" font-size="23.5" font-weight="bold" fill="#000">B</text>
<path d="M219.60 459.40L220.05 452.00L216.95 452.00L217.40 459.40ZM218.84 460.45L226.02 458.59L225.06 455.64L218.16 458.35ZM218.84 458.35L211.94 455.64L210.98 458.59L218.16 460.45ZM217.61 460.05L221.60 466.30L224.10 464.48L219.39 458.75ZM217.61 458.75L212.90 464.48L215.40 466.30L219.39 460.05Z" fill="#000"/>
<circle cx="218.5" cy="459.4" r="1.6" fill="#000"/>
<path d="M219.60 522.40L220.05 515.00L216.95 515.00L217.40 522.40ZM218.84 523.45L226.02 521.59L225.06 518.64L218.16 521.35ZM218.84 521.35L211.94 518.64L210.98 521.59L218.16 523.45ZM217.61 523.05L221.60 529.30L224.10 527.48L219.39 521.75ZM217.61 521.75L212.90 527.48L215.40 529.30L219.39 523.05Z" fill="#000"/>
<circle cx="218.5" cy="522.4" r="1.6" fill="#000"/>
<text x="440.6" y="701" text-anchor="middle" font-size="22.5" fill="#000">log(RR)</text>
</g></svg></body></html>
